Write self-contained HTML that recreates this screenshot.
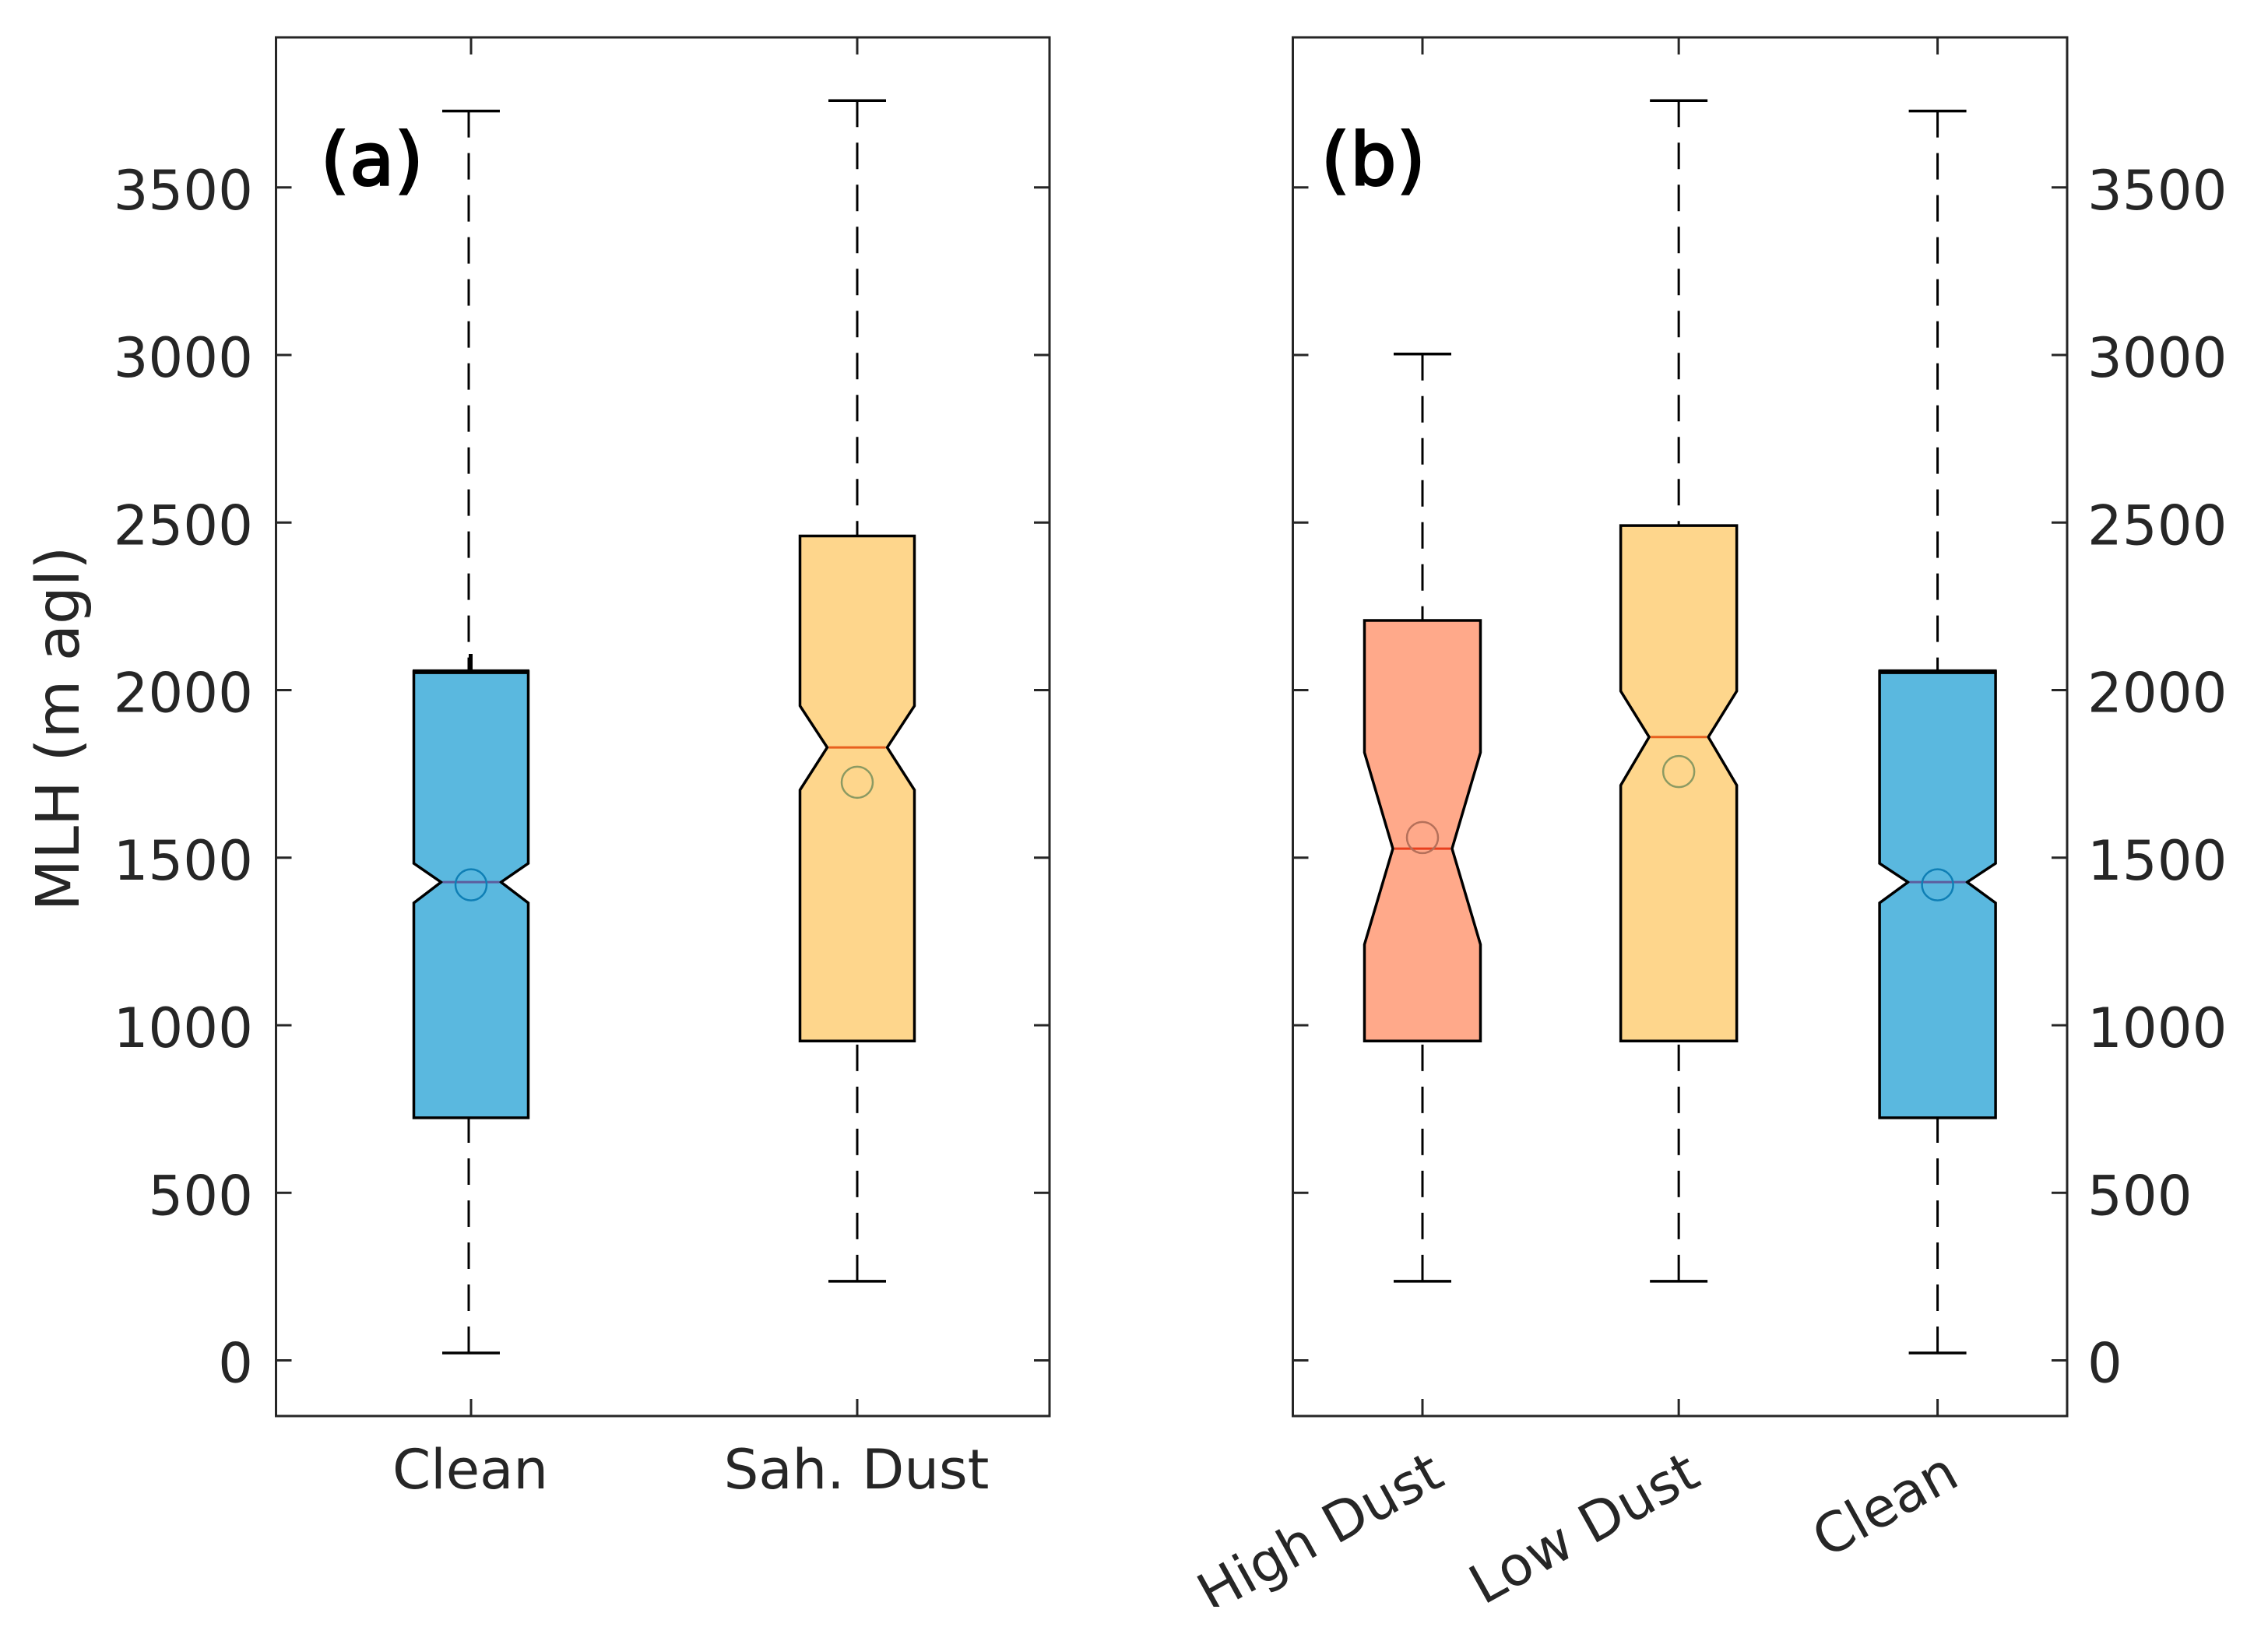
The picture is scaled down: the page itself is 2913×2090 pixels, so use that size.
<!DOCTYPE html>
<html>
<head>
<meta charset="utf-8">
<title>MLH boxplots</title>
<style>
html,body{margin:0;padding:0;background:#fff;}
svg{display:block;}
text{font-family:"DejaVu Sans","Liberation Sans",sans-serif;fill:#262626;}
</style>
</head>
<body>
<svg id="chart" xmlns="http://www.w3.org/2000/svg" width="2913" height="2090" viewBox="0 0 2913 2090">
  <defs><clipPath id="page-clip"><rect x="0" y="0" width="2913" height="2064"/></clipPath></defs>
  <rect x="0" y="0" width="2913" height="2090" fill="#fff"/>
  <g id="root" clip-path="url(#page-clip)"></g>
  <text transform="translate(101,936) rotate(-90)" text-anchor="middle" font-size="77">MLH (m agl)</text>
  <text x="412" y="237" font-size="93" letter-spacing="1" stroke="#000" stroke-width="3" style="fill:#000">(a)</text>
  <text x="1697" y="237" font-size="93" letter-spacing="1" stroke="#000" stroke-width="3" style="fill:#000">(b)</text>
</svg>
<script>
// Axis ticks
const yTicks = [0, 500, 1000, 1500, 2000, 2500, 3000, 3500];
const yTickLabels = ['0', '500', '1000', '1500', '2000', '2500', '3000', '3500'];

// Panel (a)
const categoriesA = ['Clean', 'Sah. Dust'];
const groupPositionsA = [1, 2];
const whiskerLowA = [22, 236];
const q1A = [724, 953];
const notchLowA = [1365, 1702];
const medianA = [1427, 1829];
const notchHighA = [1483, 1953];
const q3A = [2055, 2460];
const whiskerHighA = [3728, 3759];
const meanA = [1419, 1725];

// Panel (b)
const categoriesB = ['High Dust', 'Low Dust', 'Clean'];
const groupPositionsB = [1, 1.995, 3];
const whiskerLowB = [236, 236, 22];
const q1B = [953, 953, 724];
const notchLowB = [1241, 1716, 1365];
const medianB = [1527, 1860, 1427];
const notchHighB = [1814, 1997, 1483];
const q3B = [2208, 2491, 2055];
const whiskerHighB = [3003, 3759, 3728];
const meanB = [1560, 1757, 1419];

const NS = 'http://www.w3.org/2000/svg';
const root = document.getElementById('root');
const styleByCategory = {
  'Clean': {fill: '#5AB8DF', med: '#5C5C9E', ring: '#0F7FB5'},
  'Sah. Dust': {fill: '#FED68C', med: '#E8601E', ring: '#8C9A62'},
  'Low Dust': {fill: '#FED68C', med: '#E8601E', ring: '#8C9A62'},
  'High Dust': {fill: '#FFA98A', med: '#E8401E', ring: '#B5705A'}
};

function y(v) { return 1747.5 - 0.4305 * v; }

function drawPanel(p) {
  const x = i => p.x1 + (p.pos[i] - 1) * p.step;

  const frame = document.createElementNS(NS, 'rect');
  
  
  frame.setAttribute('x', p.left);
  frame.setAttribute('y', 48);
  frame.setAttribute('width', p.right - p.left);
  frame.setAttribute('height', 1771);
  frame.setAttribute('fill', 'none');
  frame.setAttribute('stroke', '#262626');
  frame.setAttribute('stroke-width', 3);
  root.appendChild(frame);

  yTicks.forEach((t, k) => {
    [[p.left, p.left + 20], [p.right, p.right - 20]].forEach((s, side) => {
      const tick = document.createElementNS(NS, 'line');
      
      
      tick.setAttribute('x1', s[0]);
      tick.setAttribute('x2', s[1]);
      tick.setAttribute('y1', y(t));
      tick.setAttribute('y2', y(t));
      tick.setAttribute('stroke', '#262626');
      tick.setAttribute('stroke-width', 3);
      root.appendChild(tick);
    });
    const lab = document.createElementNS(NS, 'text');
    
    
    lab.setAttribute('x', p.labelX);
    lab.setAttribute('y', y(t) + 28);
    lab.setAttribute('text-anchor', p.labelAnchor);
    lab.setAttribute('font-size', 70.5);
    lab.textContent = yTickLabels[k];
    root.appendChild(lab);
  });

  p.cats.forEach((cat, i) => {
    const cx = x(i);
    const st = styleByCategory[cat];
    const slug = p.id + '-' + cat.toLowerCase().replace(/[^a-z]+/g, '-');

    [[48, 70], [1819, 1797]].forEach((s, side) => {
      const tick = document.createElementNS(NS, 'line');
      
      
      tick.setAttribute('x1', cx);
      tick.setAttribute('x2', cx);
      tick.setAttribute('y1', s[0]);
      tick.setAttribute('y2', s[1]);
      tick.setAttribute('stroke', '#262626');
      tick.setAttribute('stroke-width', 3);
      root.appendChild(tick);
    });

    const wx = cx + (p.id === 'panel-a' && i === 0 ? -3 : 0);
    [[p.q3[i], p.wHi[i], 'upper'], [p.q1[i], p.wLo[i], 'lower']].forEach(w => {
      const whisk = document.createElementNS(NS, 'line');
      
      
      whisk.setAttribute('x1', wx);
      whisk.setAttribute('x2', wx);
      whisk.setAttribute('y1', y(w[1]));
      whisk.setAttribute('y2', y(w[0]));
      whisk.setAttribute('stroke', '#000');
      whisk.setAttribute('stroke-width', 3);
      whisk.setAttribute('stroke-dasharray', '34 20');
      root.appendChild(whisk);

      const cap = document.createElementNS(NS, 'line');
      
      
      cap.setAttribute('x1', cx - p.capHalf);
      cap.setAttribute('x2', cx + p.capHalf);
      cap.setAttribute('y1', y(w[1]));
      cap.setAttribute('y2', y(w[1]));
      cap.setAttribute('stroke', '#000');
      cap.setAttribute('stroke-width', 3.5);
      root.appendChild(cap);
    });

    const L = cx - p.boxHalf, R = cx + p.boxHalf;
    const l = cx - p.waistHalf, r = cx + p.waistHalf;
    const pts = [
      [L, y(p.q1[i])], [R, y(p.q1[i])], [R, y(p.nLo[i])], [r, y(p.med[i])],
      [R, y(p.nHi[i])], [R, y(p.q3[i])], [L, y(p.q3[i])], [L, y(p.nHi[i])],
      [l, y(p.med[i])], [L, y(p.nLo[i])]
    ];
    const box = document.createElementNS(NS, 'polygon');
    
    
    box.setAttribute('points', pts.map(q => q.join(',')).join(' '));
    box.setAttribute('fill', st.fill);
    box.setAttribute('stroke', '#000');
    box.setAttribute('stroke-width', 3.5);
    root.appendChild(box);

    const medLine = document.createElementNS(NS, 'line');
    
    
    medLine.setAttribute('x1', l + 2);
    medLine.setAttribute('x2', r - 2);
    medLine.setAttribute('y1', y(p.med[i]));
    medLine.setAttribute('y2', y(p.med[i]));
    medLine.setAttribute('stroke', st.med);
    medLine.setAttribute('stroke-width', 3);
    root.appendChild(medLine);

    const ring = document.createElementNS(NS, 'circle');
    
    
    ring.setAttribute('cx', cx);
    ring.setAttribute('cy', y(p.mean[i]));
    ring.setAttribute('r', 20);
    ring.setAttribute('fill', 'none');
    ring.setAttribute('stroke', st.ring);
    ring.setAttribute('stroke-width', 2.5);
    root.appendChild(ring);

    if (cat === 'Clean') {
      const thick = document.createElementNS(NS, 'line');
      
      
      thick.setAttribute('x1', L - 1.5);
      thick.setAttribute('x2', R + 1.5);
      thick.setAttribute('y1', y(p.q3[i]));
      thick.setAttribute('y2', y(p.q3[i]));
      thick.setAttribute('stroke', '#000');
      thick.setAttribute('stroke-width', 6);
      root.appendChild(thick);
    }

    const lab = document.createElementNS(NS, 'text');
    
    
    if (p.rotate) {
      lab.setAttribute('font-size', 70);
      lab.setAttribute('text-anchor', 'end');
      lab.setAttribute('transform', 'translate(' + (cx + 31) + ',1906) rotate(-29)');
    } else {
      lab.setAttribute('font-size', 70.5);
      lab.setAttribute('text-anchor', 'middle');
      lab.setAttribute('x', cx - 1);
      lab.setAttribute('y', 1912);
    }
    lab.textContent = cat;
    root.appendChild(lab);
  });
}

drawPanel({
  id: 'panel-a', left: 354.5, right: 1348, x1: 605, step: 496, pos: groupPositionsA,
  boxHalf: 73.5, waistHalf: 38.5, capHalf: 37,
  labelX: 325, labelAnchor: 'end', rotate: false,
  cats: categoriesA, wLo: whiskerLowA, q1: q1A, nLo: notchLowA, med: medianA,
  nHi: notchHighA, q3: q3A, wHi: whiskerHighA, mean: meanA
});
drawPanel({
  id: 'panel-b', left: 1660.5, right: 2655, x1: 1827, step: 330.8, pos: groupPositionsB,
  boxHalf: 74.5, waistHalf: 38, capHalf: 37,
  labelX: 2681, labelAnchor: 'start', rotate: true,
  cats: categoriesB, wLo: whiskerLowB, q1: q1B, nLo: notchLowB, med: medianB,
  nHi: notchHighB, q3: q3B, wHi: whiskerHighB, mean: meanB
});

// Short thick stub above the Clean box in panel (a)
const stub = document.createElementNS(NS, 'line');


stub.setAttribute('x1', 604.5);
stub.setAttribute('x2', 604.5);
stub.setAttribute('y1', y(q3A[0]));
stub.setAttribute('y2', y(q3A[0] + 53));
stub.setAttribute('stroke', '#000');
stub.setAttribute('stroke-width', 5);
root.appendChild(stub);
</script>
</body>
</html>
